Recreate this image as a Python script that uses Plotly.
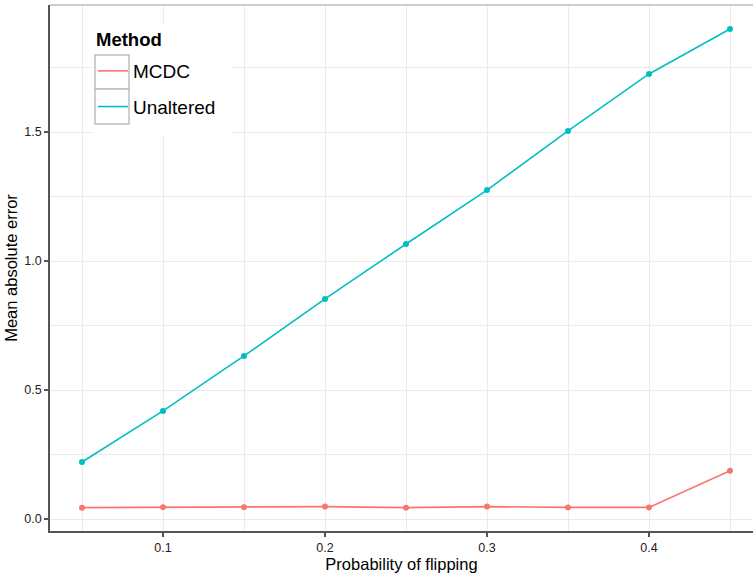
import plotly.graph_objects as go

prob = [0.05, 0.10, 0.15, 0.20, 0.25, 0.30, 0.35, 0.40, 0.45]
mcdc = [0.044, 0.046, 0.046, 0.048, 0.044, 0.048, 0.045, 0.045, 0.187]
unaltered = [0.221, 0.419, 0.632, 0.853, 1.066, 1.275, 1.504, 1.725, 1.899]
methods = ["MCDC", "Unaltered"]
colors = ["#F8766D", "#00BFC4"]

W, H = 753, 573
L, R, T, B = 50, 0, 5, 42
pw, ph = W - L - R, H - T - B

def px(x):
    return (x - L) / pw

def py(y):
    return (H - B - y) / ph

fig = go.Figure()
for name, vals, col, grp in zip(methods, [mcdc, unaltered], colors, ["a", "b"]):
    fig.add_trace(go.Scatter(x=prob, y=vals, mode="lines", name=name,
                             line=dict(color=col, width=1.6), legendgroup=grp))
    fig.add_trace(go.Scatter(x=prob, y=vals, mode="markers", name=name,
                             marker=dict(color=col, size=6), showlegend=False,
                             legendgroup=grp, hoverinfo="skip"))

grid = "#EBEBEB"
shapes = [
    dict(type="line", xref="paper", yref="paper", x0=0, x1=1, y0=1, y1=1,
         line=dict(color="#BDBDBD", width=1.5), layer="above"),
    dict(type="rect", xref="paper", yref="paper", x0=px(92), x1=px(232), y0=py(135), y1=py(25),
         fillcolor="white", line=dict(width=0), layer="above"),
    dict(type="rect", xref="paper", yref="paper", x0=px(95), x1=px(129), y0=py(89), y1=py(55),
         fillcolor="white", line=dict(color="#BEBEBE", width=1.5), layer="above"),
    dict(type="rect", xref="paper", yref="paper", x0=px(95), x1=px(129), y0=py(124), y1=py(89),
         fillcolor="white", line=dict(color="#BEBEBE", width=1.5), layer="above"),
]

annotations = [
    dict(text="<b>Method</b>", xref="paper", yref="paper", x=px(94), y=py(40),
         xanchor="left", yanchor="middle", showarrow=False, font=dict(size=18.5, color="black")),
]

fig.update_layout(
    width=W, height=H,
    margin=dict(l=L, r=R, t=T, b=B, autoexpand=False),
    paper_bgcolor="white", plot_bgcolor="white",
    font=dict(family="Liberation Sans, Arial, sans-serif", color="black"),
    shapes=shapes,
    annotations=annotations,
    legend=dict(
        font=dict(size=19),
        x=px(93), y=py(52), xanchor="left", yanchor="top",
        bgcolor="rgba(0,0,0,0)", itemwidth=30, tracegroupgap=8,
    ),
    xaxis=dict(
        automargin=True,
        range=[0.05 - 32 / 1620, 0.05 - 32 / 1620 + pw / 1620],
        tickvals=[0.1, 0.2, 0.3, 0.4], ticktext=["0.1", "0.2", "0.3", "0.4"],
        showgrid=True, gridcolor=grid, gridwidth=1,
        minor=dict(tickvals=[0.05, 0.15, 0.25, 0.35, 0.45], showgrid=True, gridcolor=grid, gridwidth=1),
        zeroline=False,
        showline=True, linecolor="#555555", linewidth=1.5,
        ticks="outside", ticklen=4, tickcolor="#555555", tickwidth=1.5,
        tickfont=dict(size=12.5, color="#222222"),
        title=dict(text="Probability of flipping", font=dict(size=16.5), standoff=0),
    ),
    yaxis=dict(
        automargin=True,
        range=[(519 - 531) / 258, (519 - 5) / 258],
        tickvals=[0, 0.5, 1.0, 1.5], ticktext=["0.0", "0.5", "1.0", "1.5"],
        showgrid=True, gridcolor=grid, gridwidth=1,
        minor=dict(tickvals=[0.25, 0.75, 1.25, 1.75], showgrid=True, gridcolor=grid, gridwidth=1),
        zeroline=False,
        showline=True, linecolor="#555555", linewidth=1.5,
        ticks="outside", ticklen=4, tickcolor="#555555", tickwidth=1.5,
        tickfont=dict(size=12.5, color="#222222"),
        title=dict(text="Mean absolute error", font=dict(size=16.5), standoff=3),
    ),
)

fig.write_html("out.html", config={"displayModeBar": False},
               post_script="document.body.style.margin='0';document.body.style.overflow='hidden';")
